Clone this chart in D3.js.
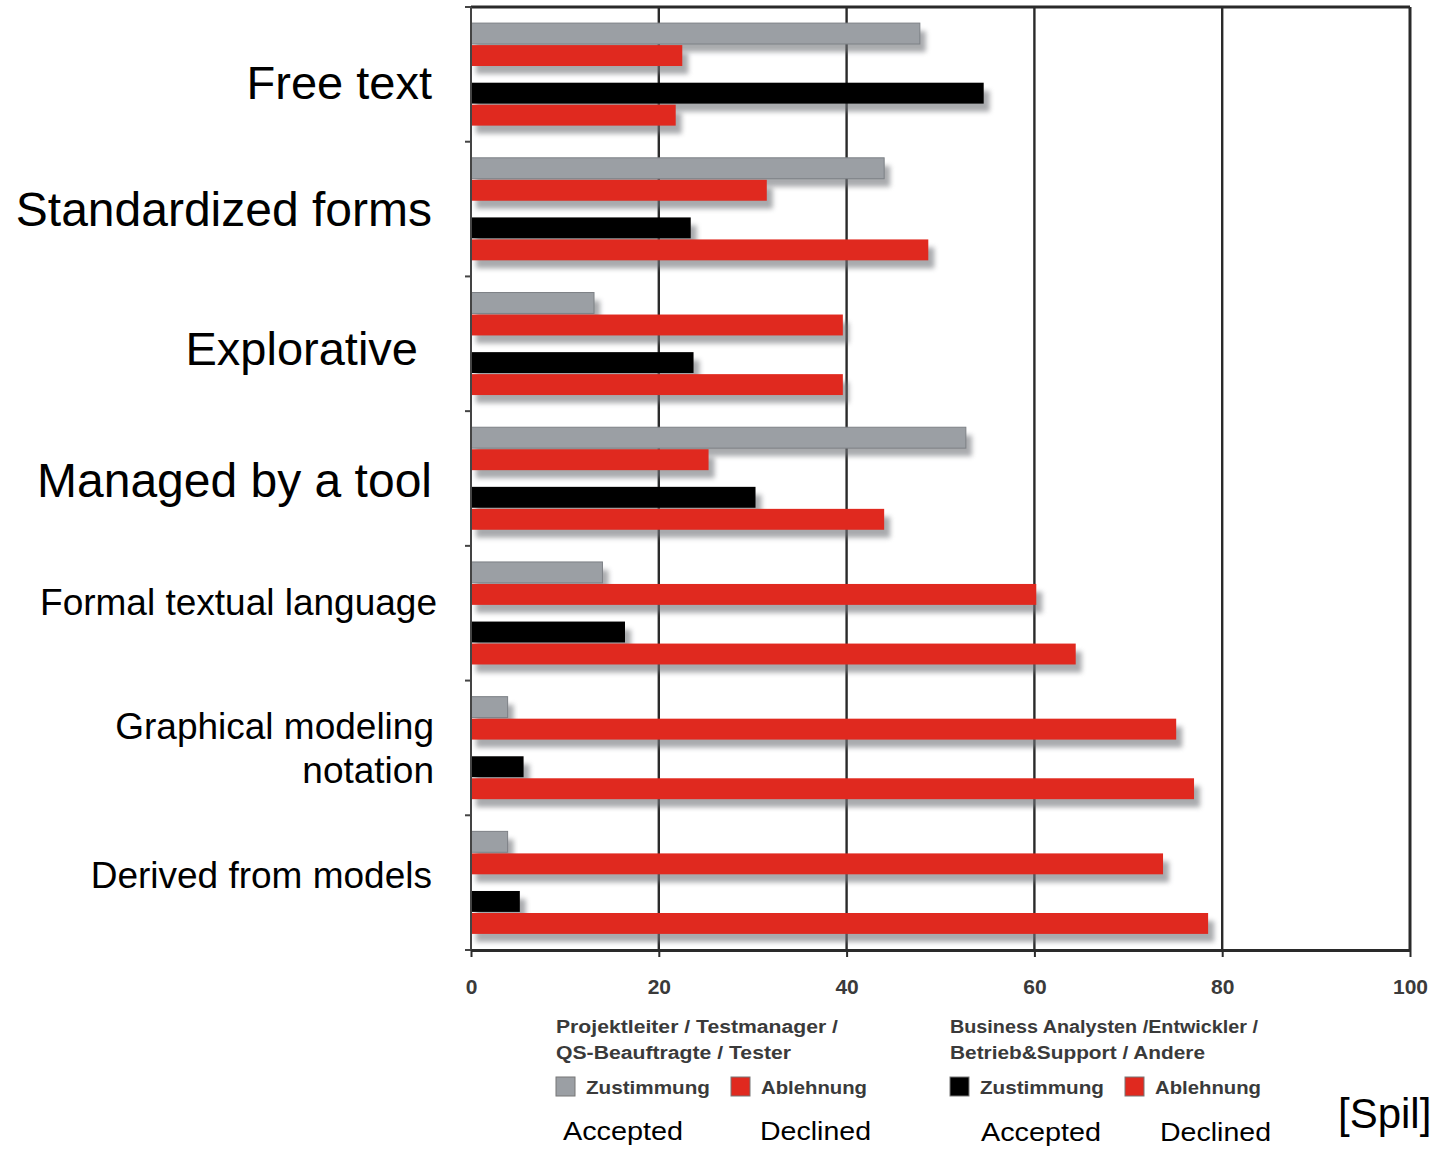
<!DOCTYPE html>
<html>
<head>
<meta charset="utf-8">
<script src="https://cdn.jsdelivr.net/npm/d3@7"></script>
<style>
  html, body { margin: 0; padding: 0; background: #ffffff; }
  svg { display: block; font-family: "Liberation Sans", Arial, Helvetica, sans-serif; }
</style>
</head>
<body>
<svg id="chart" width="1445" height="1149"></svg>
<script>
// ---- data ----
const categories = [
  "Free text",
  "Standardized forms",
  "Explorative",
  "Managed by a tool",
  "Formal textual language",
  "Graphical modeling notation",
  "Derived from models"
];
const pmAccepted = [47.8, 44.0, 13.1, 52.7, 14.0, 3.9, 3.9];
const pmDeclined = [22.5, 31.5, 39.6, 25.3, 60.2, 75.1, 73.7];
const baAccepted = [54.6, 23.4, 23.7, 30.3, 16.4, 5.6, 5.2];
const baDeclined = [21.8, 48.7, 39.6, 44.0, 64.4, 77.0, 78.5];
const xTickValues = [0, 20, 40, 60, 80, 100];
const groupNames = ["pm", "ba"];
const answerNames = ["accepted", "declined"];
const legendGroupTitles = [
  ["Projektleiter / Testmanager /", "QS-Beauftragte / Tester"],
  ["Business Analysten /Entwickler /", "Betrieb&Support / Andere"]
];
const legendAnswerLabels = ["Zustimmung", "Ablehnung"];
const englishAnswerLabels = ["Accepted", "Declined"];
const sourceLabel = "[Spil]";

// ---- layout ----
const svg = d3.select("#chart");
const x0 = 471, x1 = 1410, yTop = 7, yBottom = 950;
const x = d3.scaleLinear().domain([0, 100]).range([x0, x1]);
const y = d3.scaleBand().domain(categories).range([yTop, yBottom]).paddingInner(0).paddingOuter(0);
const yGroup = d3.scaleBand().domain(groupNames).range([0, y.bandwidth()]).paddingInner(0.28).paddingOuter(0.27);
const yAnswer = d3.scaleBand().domain(answerNames).range([0, yGroup.bandwidth()]).paddingInner(0.05).paddingOuter(0);

const colors = { pm: { accepted: "#9b9fa4", declined: "#e0291f" }, ba: { accepted: "#000000", declined: "#e0291f" } };

const defs = svg.append("defs");
const f = defs.append("filter").attr("id", "blur").attr("x", "-10%").attr("y", "-50%").attr("width", "120%").attr("height", "200%");
f.append("feGaussianBlur").attr("stdDeviation", 2.8);

// ---- bars ----
const rows = [];
categories.forEach((c, i) => {
  rows.push({ cat: c, g: "pm", a: "accepted", v: pmAccepted[i] });
  rows.push({ cat: c, g: "pm", a: "declined", v: pmDeclined[i] });
  rows.push({ cat: c, g: "ba", a: "accepted", v: baAccepted[i] });
  rows.push({ cat: c, g: "ba", a: "declined", v: baDeclined[i] });
});
const barY = d => y(d.cat) + yGroup(d.g) + yAnswer(d.a);

// gridlines (behind bars)
svg.append("g").selectAll("line").data(xTickValues.filter(t => t > 0 && t < 100)).join("line")
  .attr("x1", d => x(d)).attr("x2", d => x(d)).attr("y1", yTop).attr("y2", yBottom)
  .attr("stroke", "#2a2a2a").attr("stroke-width", 2.4);

// shadows
svg.append("g").selectAll("rect").data(rows).join("rect")
  .attr("x", x(0) + 5).attr("y", d => barY(d) + 8)
  .attr("width", d => Math.max(0, x(d.v) - x(0)) + 1)
  .attr("height", yAnswer.bandwidth())
  .attr("fill", "#6f7277").attr("opacity", 0.6).attr("filter", "url(#blur)");

// bars
svg.append("g").selectAll("rect").data(rows).join("rect")
  .attr("x", x(0)).attr("y", barY)
  .attr("width", d => x(d.v) - x(0))
  .attr("height", yAnswer.bandwidth())
  .attr("fill", d => colors[d.g][d.a])
  .attr("stroke", d => d.g === "pm" && d.a === "accepted" ? "#7d8186" : "none")
  .attr("stroke-width", 1);

// ---- frame / axes ----
svg.append("line").attr("x1", x0).attr("x2", x1).attr("y1", yTop).attr("y2", yTop)
  .attr("stroke", "#2a2a2a").attr("stroke-width", 3);
svg.append("line").attr("x1", x1).attr("x2", x1).attr("y1", yTop).attr("y2", yBottom)
  .attr("stroke", "#2a2a2a").attr("stroke-width", 3);

// left axis with tick marks at group boundaries
const boundaries = categories.map(c => y(c)).concat([yBottom]);
svg.append("line").attr("x1", x0).attr("x2", x0).attr("y1", yTop).attr("y2", yBottom)
  .attr("stroke", "#444").attr("stroke-width", 2);
svg.append("g").selectAll("line").data(boundaries).join("line")
  .attr("x1", x0 - 6).attr("x2", x0).attr("y1", d => d).attr("y2", d => d)
  .attr("stroke", "#444").attr("stroke-width", 2);

// bottom axis
const xAxis = d3.axisBottom(x).tickValues(xTickValues).tickSize(7).tickPadding(22).tickSizeOuter(0);
const gx = svg.append("g").attr("transform", `translate(0,${yBottom})`).call(xAxis);
gx.select(".domain").attr("stroke", "#2a2a2a").attr("stroke-width", 3);
gx.selectAll(".tick line").attr("stroke", "#2a2a2a").attr("stroke-width", 2);
gx.selectAll(".tick text").attr("font-size", 21).attr("font-weight", "bold").attr("fill", "#3a3a3a")
  .attr("font-family", "'Liberation Sans', Arial, sans-serif");

// ---- category labels ----
const labelStyle = {
  "Free text": { size: 47, lines: ["Free text"], dy: 8, dx: 0 },
  "Standardized forms": { size: 48, lines: ["Standardized forms"], dy: 0, dx: 0 },
  "Explorative": { size: 47, lines: ["Explorative"], dy: 5, dx: -14 },
  "Managed by a tool": { size: 48, lines: ["Managed by a tool"], dy: 2, dx: 0 },
  "Formal textual language": { size: 37, lines: ["Formal textual language"], dy: -11, dx: 5 },
  "Graphical modeling notation": { size: 37, lines: ["Graphical modeling", "notation"], dy: 0, dx: 2 },
  "Derived from models": { size: 37, lines: ["Derived from models"], dy: -8, dx: 0 }
};
categories.forEach(c => {
  const s = labelStyle[c];
  const cy = y(c) + y.bandwidth() / 2 + s.dy;
  const lh = s.size * 1.2;
  const t = svg.append("text").attr("text-anchor", "end").attr("font-size", s.size).attr("fill", "#000");
  s.lines.forEach((ln, k) => {
    t.append("tspan").attr("x", 432 + s.dx)
      .attr("y", cy + (k - (s.lines.length - 1) / 2) * lh)
      .attr("dy", "0.35em").text(ln);
  });
});

// ---- legend ----
const legendX = [556, 950];
const legend = svg.append("g").attr("fill", "#333");
legendGroupTitles.forEach((lines, gi) => {
  lines.forEach((ln, li) => {
    legend.append("text").attr("x", legendX[gi]).attr("y", 1033 + li * 26)
      .attr("font-size", 18).attr("font-weight", "bold").attr("fill", "#3a3a3a")
      .attr("textLength", gi === 0 ? (li === 0 ? 282 : 235) : (li === 0 ? 308 : 255))
      .attr("lengthAdjust", "spacingAndGlyphs").text(ln);
  });
  answerNames.forEach((a, ai) => {
    const sx = legendX[gi] + ai * 175;
    legend.append("rect").attr("x", sx).attr("y", 1077).attr("width", 19).attr("height", 19)
      .attr("fill", colors[groupNames[gi]][a]).attr("stroke", "#777").attr("stroke-width", 1);
    legend.append("text").attr("x", sx + 30).attr("y", 1094)
      .attr("font-size", 18).attr("font-weight", "bold").attr("fill", "#3a3a3a")
      .attr("textLength", ai === 0 ? 124 : 106).attr("lengthAdjust", "spacingAndGlyphs")
      .text(legendAnswerLabels[ai]);
  });
});

// English labels under legend
const englishX = [[563, 760], [981, 1160]];
englishX.forEach((xs, gi) => {
  xs.forEach((ex, ai) => {
    svg.append("text").attr("x", ex).attr("y", 1140 + gi * 1)
      .attr("font-size", 26).attr("fill", "#000")
      .attr("textLength", ai === 0 ? 120 : 111).attr("lengthAdjust", "spacingAndGlyphs")
      .text(englishAnswerLabels[ai]);
  });
});

// source
svg.append("text").attr("x", 1338).attr("y", 1128).attr("font-size", 42).attr("fill", "#000").text(sourceLabel);
</script>
</body>
</html>
